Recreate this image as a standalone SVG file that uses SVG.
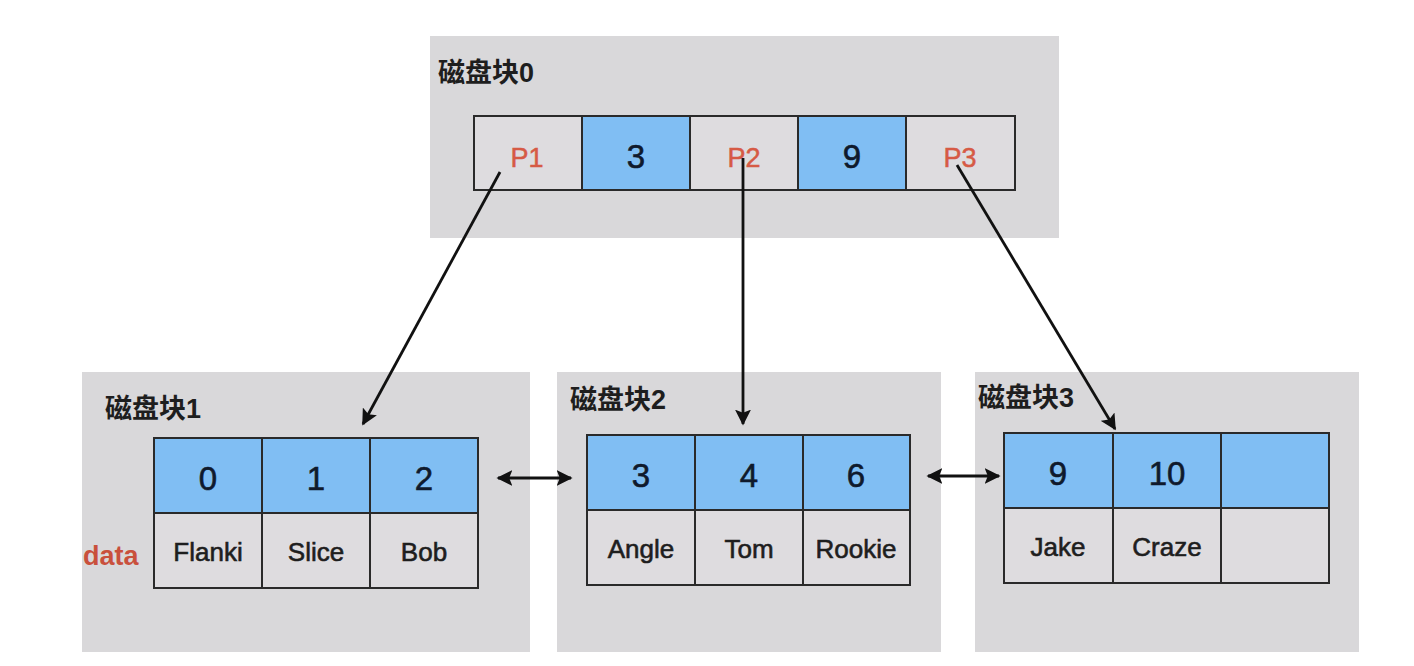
<svg xmlns="http://www.w3.org/2000/svg" width="1414" height="666" viewBox="0 0 1414 666">
<defs>
<marker id="ah" viewBox="0 0 10 10" refX="9" refY="5" markerWidth="16" markerHeight="16" markerUnits="userSpaceOnUse" orient="auto-start-reverse">
<path d="M0,0 L10,5 L0,10 L2,5 z" fill="#111"/>
</marker>
<style>
.blk{fill:#d9d8da;}
.k{fill:#80bef3;stroke:#2a2a2a;stroke-width:2;}
.v{fill:#dedcdf;stroke:#2a2a2a;stroke-width:2;}
.ttl{font-family:"Liberation Sans","Noto Sans CJK SC",sans-serif;font-size:27px;font-weight:bold;fill:#1e1e1e;}
.num{font-family:"Liberation Sans",sans-serif;font-size:33px;fill:#0f1a2c;stroke:#0f1a2c;stroke-width:0.6;text-anchor:middle;}
.ptr{font-family:"Liberation Sans",sans-serif;font-size:27px;fill:#d65a45;stroke:#d65a45;stroke-width:0.5;text-anchor:middle;}
.nm{font-family:"Liberation Sans",sans-serif;font-size:26px;fill:#1e1e1e;stroke:#1e1e1e;stroke-width:0.6;text-anchor:middle;}
.red{font-family:"Liberation Sans",sans-serif;font-size:27px;font-weight:bold;fill:#c9503c;}
.ln{stroke:#111;stroke-width:2.8;fill:none;}
</style>
</defs>
<rect width="1414" height="666" fill="#fff"/>
<g id="block0">
<rect class="blk" x="430" y="36" width="629" height="202"/>
<text class="ttl" x="438" y="82">磁盘块0</text>
<rect class="v" x="474" y="116" width="108" height="74"/>
<rect class="k" x="582" y="116" width="108" height="74"/>
<rect class="v" x="690" y="116" width="108" height="74"/>
<rect class="k" x="798" y="116" width="108" height="74"/>
<rect class="v" x="906" y="116" width="109" height="74"/>
<text class="ptr" x="527" y="167">P1</text>
<text class="num" x="636" y="168">3</text>
<text class="ptr" x="744" y="167">P2</text>
<text class="num" x="852" y="168">9</text>
<text class="ptr" x="960" y="167">P3</text>
</g>
<g id="block1">
<rect class="blk" x="82" y="372" width="448" height="280"/>
<text class="ttl" x="105" y="418">磁盘块1</text>
<rect class="k" x="154" y="438" width="108" height="75"/>
<rect class="k" x="262" y="438" width="108" height="75"/>
<rect class="k" x="370" y="438" width="108" height="75"/>
<rect class="v" x="154" y="513" width="108" height="75"/>
<rect class="v" x="262" y="513" width="108" height="75"/>
<rect class="v" x="370" y="513" width="108" height="75"/>
<text class="num" x="208" y="490">0</text>
<text class="num" x="316" y="490">1</text>
<text class="num" x="424" y="490">2</text>
<text class="nm" x="208" y="561">Flanki</text>
<text class="nm" x="316" y="561">Slice</text>
<text class="nm" x="424" y="561">Bob</text>
<text class="red" x="83" y="565">data</text>
</g>
<g id="block2">
<rect class="blk" x="557" y="372" width="384" height="280"/>
<text class="ttl" x="570" y="409">磁盘块2</text>
<rect class="k" x="587" y="435" width="108" height="75"/>
<rect class="k" x="695" y="435" width="108" height="75"/>
<rect class="k" x="803" y="435" width="107" height="75"/>
<rect class="v" x="587" y="510" width="108" height="75"/>
<rect class="v" x="695" y="510" width="108" height="75"/>
<rect class="v" x="803" y="510" width="107" height="75"/>
<text class="num" x="641" y="487">3</text>
<text class="num" x="749" y="487">4</text>
<text class="num" x="856" y="487">6</text>
<text class="nm" x="641" y="558">Angle</text>
<text class="nm" x="749" y="558">Tom</text>
<text class="nm" x="856" y="558">Rookie</text>
</g>
<g id="block3">
<rect class="blk" x="975" y="372" width="384" height="280"/>
<text class="ttl" x="978" y="407">磁盘块3</text>
<rect class="k" x="1004" y="433" width="109" height="75"/>
<rect class="k" x="1113" y="433" width="108" height="75"/>
<rect class="k" x="1221" y="433" width="108" height="75"/>
<rect class="v" x="1004" y="508" width="109" height="75"/>
<rect class="v" x="1113" y="508" width="108" height="75"/>
<rect class="v" x="1221" y="508" width="108" height="75"/>
<text class="num" x="1058" y="485">9</text>
<text class="num" x="1167" y="485">10</text>
<text class="nm" x="1058" y="556">Jake</text>
<text class="nm" x="1167" y="556">Craze</text>
</g>
<g id="connectors">
<line class="ln" x1="500" y1="172" x2="363" y2="424" marker-end="url(#ah)"/>
<line class="ln" x1="743" y1="158" x2="743" y2="424" marker-end="url(#ah)"/>
<line class="ln" x1="957" y1="165" x2="1115" y2="429" marker-end="url(#ah)"/>
<line class="ln" x1="498" y1="478" x2="571" y2="478" marker-start="url(#ah)" marker-end="url(#ah)"/>
<line class="ln" x1="928" y1="476" x2="999" y2="476" marker-start="url(#ah)" marker-end="url(#ah)"/>
</g>
</svg>
